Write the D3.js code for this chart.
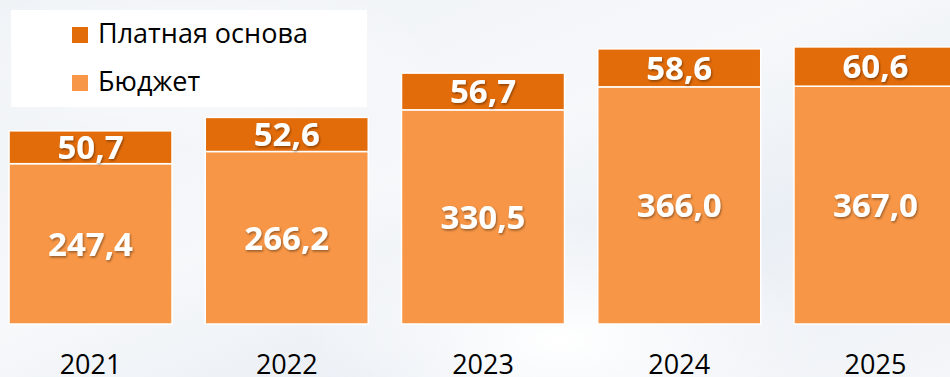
<!DOCTYPE html>
<html>
<head>
<meta charset="utf-8">
<script src="https://cdn.jsdelivr.net/npm/d3@7"></script>
<style>
  html, body { margin: 0; padding: 0; background: #fff; }
  svg { display: block; }
</style>
</head>
<body>
<svg id="chart" width="950" height="377"></svg>
<script>
// Years and the two stacked parts of each bar
const years = ["2021", "2022", "2023", "2024", "2025"];
const budget = [247.4, 266.2, 330.5, 366.0, 367.0];
const paid = [50.7, 52.6, 56.7, 58.6, 60.6];
const seriesNames = ["Платная основа", "Бюджет"];
const seriesColors = ["#E36C0A", "#F79646"];

const W = 950, H = 377;
const svg = d3.select("#chart");
const defs = svg.append("defs");

// soft bluish-grey backdrop with lighter patches
const bg = defs.append("linearGradient").attr("id", "bg")
  .attr("x1", "0").attr("y1", "0").attr("x2", "1").attr("y2", "1");
bg.append("stop").attr("offset", "0").attr("stop-color", "#eef2f6");
bg.append("stop").attr("offset", "0.45").attr("stop-color", "#f6f8fa");
bg.append("stop").attr("offset", "0.7").attr("stop-color", "#eaeff5");
bg.append("stop").attr("offset", "1").attr("stop-color", "#f4f6f9");
const glow = defs.append("radialGradient").attr("id", "glow");
glow.append("stop").attr("offset", "0").attr("stop-color", "#ffffff").attr("stop-opacity", 1);
glow.append("stop").attr("offset", "1").attr("stop-color", "#ffffff").attr("stop-opacity", 0);

const shadow = defs.append("filter").attr("id", "txtShadow")
  .attr("x", "-20%").attr("y", "-20%").attr("width", "140%").attr("height", "160%");
shadow.append("feDropShadow").attr("dx", 1).attr("dy", 1.5)
  .attr("stdDeviation", 1).attr("flood-color", "#000").attr("flood-opacity", 0.4);

svg.append("rect").attr("width", W).attr("height", H).attr("fill", "url(#bg)");
svg.append("ellipse").attr("cx", 560).attr("cy", 340).attr("rx", 260).attr("ry", 120).attr("fill", "url(#glow)");
svg.append("ellipse").attr("cx", 180).attr("cy", 60).attr("rx", 260).attr("ry", 90).attr("fill", "url(#glow)").attr("opacity", 0.6);

const x = d3.scaleBand().domain(years)
  .range([-7.6, 973.6]).paddingInner(0.1694).paddingOuter(0.0847);
const y = d3.scaleLinear().domain([0, 500]).range([324, 0]);

const rows = years.map((yr, i) => ({ year: yr, budget: budget[i], paid: paid[i] }));
const stack = d3.stack().keys(["budget", "paid"])(rows);
const colorOf = { budget: seriesColors[1], paid: seriesColors[0] };

const layers = svg.append("g").selectAll("g").data(stack).join("g")
  .attr("fill", d => colorOf[d.key]);

layers.selectAll("rect").data(d => d).join("rect")
  .attr("x", d => x(d.data.year))
  .attr("width", x.bandwidth())
  .attr("y", d => y(d[1]))
  .attr("height", d => y(d[0]) - y(d[1]))
  .attr("stroke", "#fff").attr("stroke-width", 1.5);

// value labels centred in each segment
const fmt = v => v.toFixed(1).replace(".", ",");
layers.selectAll("text").data(d => d.map(p => ({ p, key: d.key }))).join("text")
  .attr("x", d => x(d.p.data.year) + x.bandwidth() / 2)
  .attr("y", d => (y(d.p[0]) + y(d.p[1])) / 2)
  .attr("dy", "0.36em")
  .attr("text-anchor", "middle")
  .attr("font-family", "'Open Sans', sans-serif")
  .attr("font-weight", 700)
  .attr("font-size", 33)
  .attr("fill", "#fff")
  .attr("filter", "url(#txtShadow)")
  .text(d => fmt(d.p.data[d.key]));

// year labels under the bars
const xAxis = d3.axisBottom(x).tickSize(0).tickPadding(0);
const ax = svg.append("g").attr("transform", "translate(0,355)").call(xAxis);
ax.select(".domain").remove();
ax.selectAll("text")
  .attr("font-family", "'Open Sans', sans-serif")
  .attr("font-size", 27)
  .attr("fill", "#000")
  .attr("dy", "0.7em");

// legend
const lg = svg.append("g");
lg.append("rect").attr("x", 11).attr("y", 10).attr("width", 356).attr("height", 97).attr("fill", "#fff");
const items = lg.selectAll("g.item").data(seriesNames).join("g").attr("class", "item")
  .attr("transform", (d, i) => `translate(72,${27 + i * 48})`);
items.append("rect").attr("width", 16).attr("height", 16)
  .attr("fill", (d, i) => seriesColors[i]);
items.append("text").attr("x", 26).attr("y", 16)
  .attr("font-family", "'Open Sans', sans-serif")
  .attr("font-size", 27)
  .attr("fill", "#000")
  .text(d => d);
</script>
</body>
</html>
